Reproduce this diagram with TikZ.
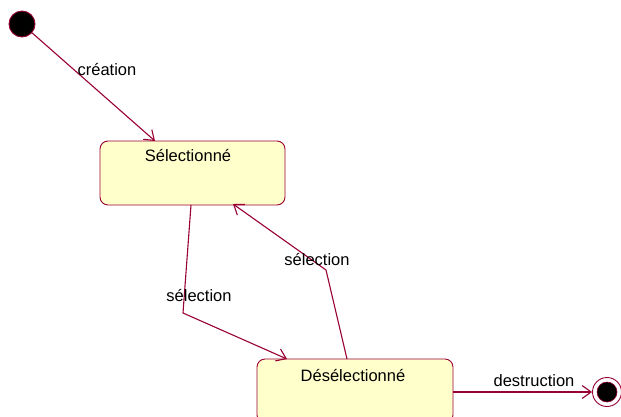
\documentclass[tikz,border=0pt]{standalone}
\usepackage{fontspec}
\setmainfont{Liberation Sans}
\usetikzlibrary{arrows.meta,calc}
\definecolor{umlred}{RGB}{153,0,51}
\definecolor{umlfill}{RGB}{255,255,204}
\tikzset{
  statebox/.style={draw=umlred, fill=umlfill, rounded corners=8pt, line width=0.9pt, minimum width=#1, minimum height=64pt, inner sep=0pt},
  statebox/.default=185pt,
  trans/.style={draw=umlred, line width=1.1pt, -{Straight Barb[length=9pt,width=13pt,line width=1.1pt]}},
  lbl/.style={font=\fontsize{16.5pt}{19pt}\selectfont, inner sep=0pt, text=black},
}
\begin{document}
\begin{tikzpicture}[x=1pt,y=-1pt]
\useasboundingbox (0,0) rectangle (621,416);
\clip (0,0) rectangle (621,416);
\fill[white] (0,0) rectangle (621,416);
% nodes
\node[circle, fill=black, draw=umlred, line width=0.9pt, minimum size=26pt, inner sep=0pt] (init) at (22,24) {};
\node[statebox=185pt] (sel) at (192.5,173) {};
\node[lbl] (seltxt) at (188,155) {Sélectionné};
\node[statebox=196pt] (des) at (355,391) {};
\node[lbl] (destxt) at (353,375) {Désélectionné};
\node[circle, fill=white, draw=umlred, line width=0.9pt, minimum size=29pt, inner sep=0pt] (final) at (607,392) {};
\node[circle, fill=black, draw=umlred, line width=0.6pt, minimum size=20pt, inner sep=0pt] (finalin) at (607,392) {};
% connector end points
\coordinate (c1) at (155,141);
\coordinate (s1) at (191,205);
\coordinate (b1) at (183,313);
\coordinate (d1) at (287,359);
\coordinate (d2) at (347,359);
\coordinate (b2) at (326,270);
\coordinate (s2) at (233,204);
\coordinate (d3) at (453,392);
% connectors
\draw[trans] (init) -- (c1);
\draw[trans] (s1) -- (b1) -- (d1);
\draw[trans] (d2) -- (b2) -- (s2);
\draw[trans] (d3) -- (final);
% labels
\node[lbl] (l1) at (107,70) {création};
\node[lbl] (l2) at (199,295) {sélection};
\node[lbl] (l3) at (317,259) {sélection};
\node[lbl] (l4) at (534,381) {destruction};
\end{tikzpicture}
\end{document}
